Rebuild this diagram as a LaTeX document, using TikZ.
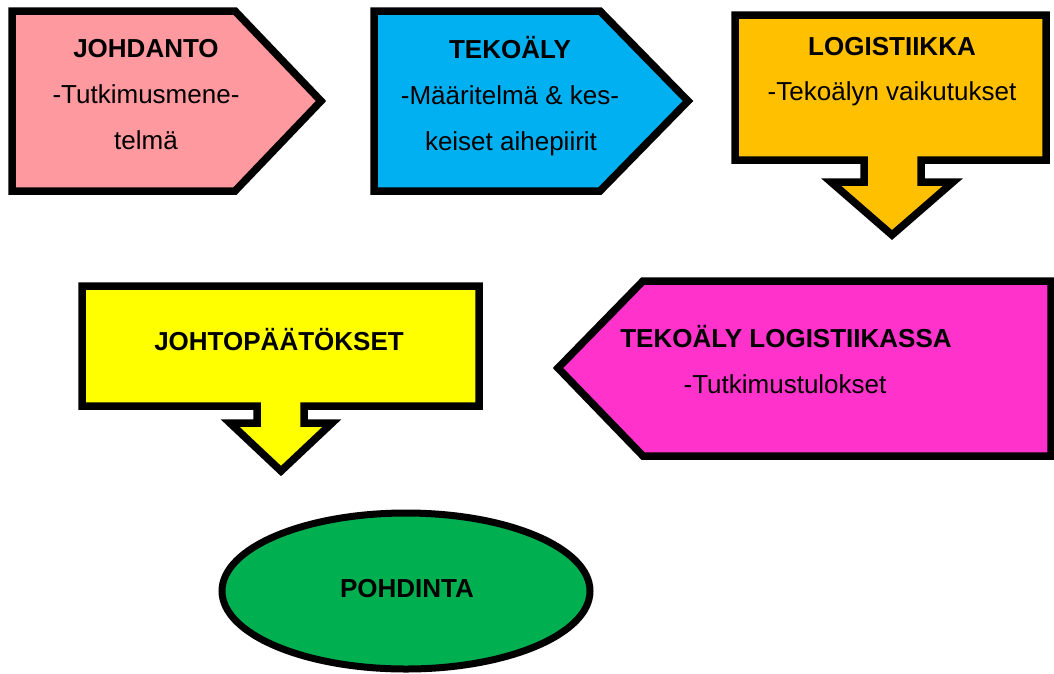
\documentclass[tikz,border=0pt]{standalone}
\usepackage{fontspec}
\setmainfont{Liberation Sans}
\definecolor{pinkc}{RGB}{255,153,160}
\definecolor{bluec}{RGB}{0,176,240}
\definecolor{orangec}{RGB}{255,192,0}
\definecolor{magc}{RGB}{255,51,204}
\definecolor{yelc}{RGB}{255,255,0}
\definecolor{grnc}{RGB}{0,176,80}
\begin{document}
\begin{tikzpicture}[x=1pt,y=-1pt,
  shp/.style={draw=black,line width=7.5pt,line join=miter},
  hd/.style={font=\bfseries\fontsize{26}{30}\selectfont,anchor=base,inner sep=0pt},
  sb/.style={font=\fontsize{26}{30}\selectfont,anchor=base,inner sep=0pt}]
\useasboundingbox (0,0) rectangle (1054,673);
\fill[white] (0,0) rectangle (1054,673);
% shape 1
\draw[shp,fill=pinkc] (12,11) -- (235,11) -- (321,101) -- (235,191) -- (12,191) -- cycle;
\node[hd] (t1) at (146,57) {JOHDANTO};
\node[sb] (t1b) at (146,103) {-Tutkimusmene-};
\node[sb] (t1c) at (146,149) {telmä};
% shape 2
\draw[shp,fill=bluec] (374,11) -- (600,11) -- (688,101) -- (600,191) -- (374,191) -- cycle;
\node[hd] (t2) at (510,58) {TEKOÄLY};
\node[sb] (t2b) at (510,104) {-Määritelmä \& kes-};
\node[sb] (t2c) at (511,150) {keiset aihepiirit};
% shape 3
\draw[shp,fill=orangec] (735,15) -- (1046,15) -- (1046,160) -- (921,160) -- (921,182) -- (953,182)
  -- (892,235) -- (831,182) -- (864,182) -- (864,160) -- (735,160) -- cycle;
\node[hd] (t3) at (892,55) {LOGISTIIKKA};
\node[sb] (t3b) at (892,100) {-Tekoälyn vaikutukset};
% shape 4
\draw[shp,fill=magc] (558,368) -- (643,281) -- (1051,281) -- (1051,456) -- (643,456) -- cycle;
\node[hd] (t4) at (786,347) {TEKOÄLY LOGISTIIKASSA};
\node[sb] (t4b) at (785,393) {-Tutkimustulokset};
% shape 5
\draw[shp,fill=yelc] (82,286) -- (479,286) -- (479,406) -- (304,406) -- (304,423) -- (332,423)
  -- (281,471) -- (230,423) -- (257,423) -- (257,406) -- (82,406) -- cycle;
\node[hd] (t5) at (279,350) {JOHTOPÄÄTÖKSET};
% shape 6
\draw[shp,line width=7pt,fill=grnc] (406,591) ellipse [x radius=184,y radius=78];
\node[hd] (t6) at (407,597) {POHDINTA};
\end{tikzpicture}
\end{document}
